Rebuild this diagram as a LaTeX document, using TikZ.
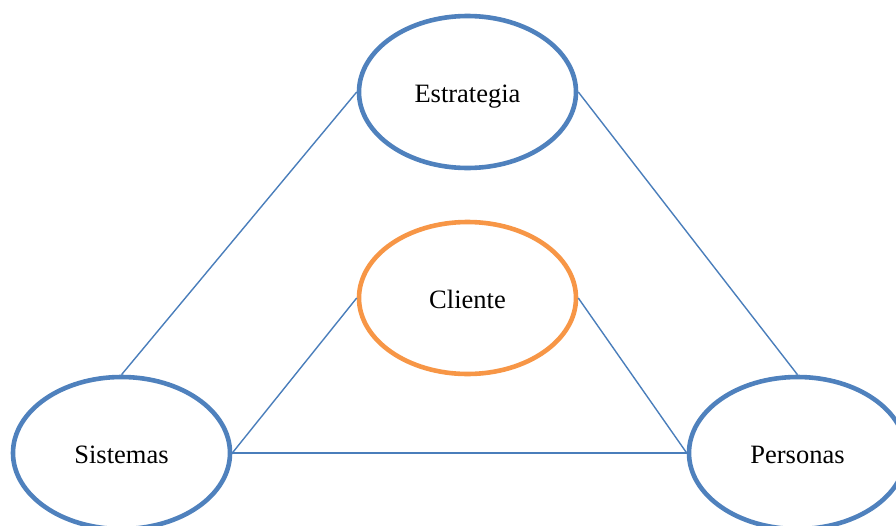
\documentclass[tikz,border=0pt]{standalone}
\usepackage{fontspec}
\usetikzlibrary{shapes.geometric}
\setmainfont{Liberation Serif}
\definecolor{ringblue}{HTML}{4F81BD}
\definecolor{ringorange}{HTML}{F79646}
\definecolor{linkblue}{HTML}{4A7EBB}
\begin{document}
\begin{tikzpicture}[x=1pt,y=-1pt,
  ring/.style={ellipse, draw=ringblue, line width=4.6pt, fill=white,
    minimum width=217pt, minimum height=152pt, inner sep=0pt,
    text height=20pt, text depth=0pt,
    font=\fontsize{26.5}{30}\selectfont},
  core/.style={ring, draw=ringorange},
  link/.style={draw=linkblue, line width=1.4pt}]
\useasboundingbox (0,0) rectangle (896,525);
\begin{scope}
\clip (0,0) rectangle (896,525);
% the four ellipses
\node[ring] (est) at (467.5,92) {Estrategia};
\node[core] (cli) at (467.5,298) {Cliente};
\node[ring] (sis) at (121.5,453) {Sistemas};
\node[ring] (per) at (797.5,453) {Personas};
% connectors between them
\draw[link] (sis.north) -- (est.west);
\draw[link] (est.east) -- (per.north);
\draw[link] (sis.east) -- (per.west);
\draw[link] (sis.east) -- (cli.west);
\draw[link] (cli.east) -- (per.west);
\end{scope}
\end{tikzpicture}
\end{document}
